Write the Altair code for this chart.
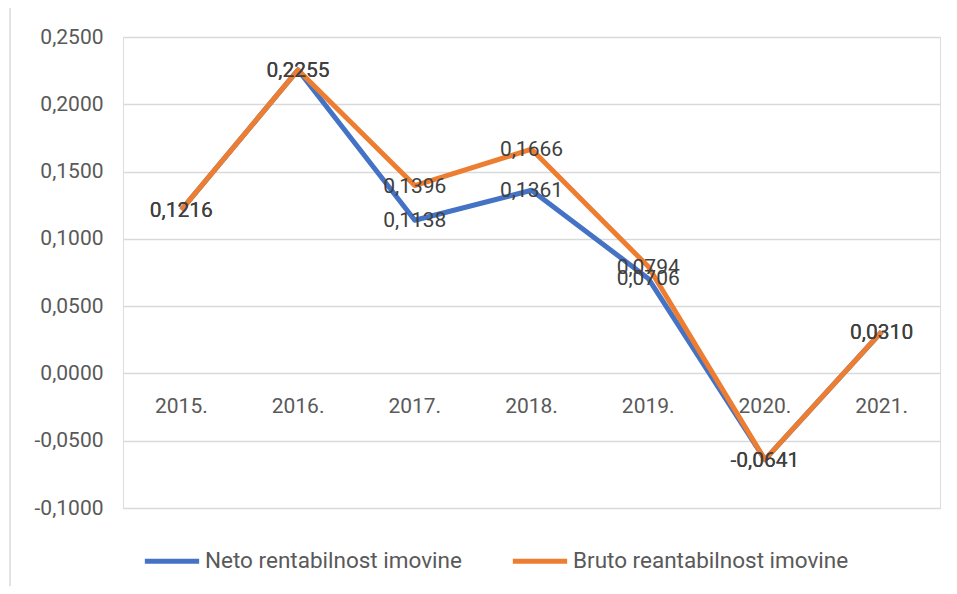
import altair as alt
import pandas as pd

years = ["2015.", "2016.", "2017.", "2018.", "2019.", "2020.", "2021."]
neto = [0.1216, 0.2255, 0.1138, 0.1361, 0.0706, -0.0641, 0.0310]
bruto = [0.1216, 0.2255, 0.1396, 0.1666, 0.0794, -0.0641, 0.0310]
series_names = ["Neto rentabilnost imovine", "Bruto reantabilnost imovine"]
colors = ["#4472C4", "#ED7D31"]
y_ticks = [-0.1, -0.05, 0.0, 0.05, 0.1, 0.15, 0.2, 0.25]

rows = []
for name, vals in zip(series_names, [neto, bruto]):
    for yr, v in zip(years, vals):
        rows.append({"year": yr, "series": name, "value": v,
                     "label": f"{v:.4f}".replace(".", ",")})
df = pd.DataFrame(rows)
cat_df = pd.DataFrame({"year": years})

FONT = "Roboto"
FS = 21

x_enc = alt.X("year:N", sort=years, scale=alt.Scale(type="point", padding=0.5), axis=None)
y_scale = alt.Scale(domain=[-0.1, 0.25], nice=False, zero=False)

color_enc = alt.Color(
    "series:N",
    scale=alt.Scale(domain=series_names, range=colors),
    legend=alt.Legend(
        orient="none", legendX=19, legendY=494, direction="horizontal", columns=2,
        title=None, symbolType="stroke", symbolStrokeWidth=5, symbolSize=2950,
        labelFontSize=22.5, labelColor="#595959", labelFont=FONT,
        columnPadding=40, labelOffset=3, labelLimit=400,
    ),
)

base = alt.Chart(df)

border = alt.Chart(pd.DataFrame({"a": [0]})).mark_rect(
    fill="transparent", stroke="#d9d9d9", strokeWidth=1.5
).encode(
    x=alt.value(-113), x2=alt.value(830), y=alt.value(-30), y2=alt.value(600)
)

grid = base.mark_line(opacity=0).encode(
    x=x_enc,
    y=alt.Y("value:Q", scale=y_scale, axis=alt.Axis(
        values=y_ticks, title=None, ticks=False, domain=False, grid=True,
        gridColor="#d9d9d9", gridWidth=1.5,
        labelExpr="replace(replace(format(datum.value, '.4f'), '.', ','), '\u2212', '-')",
        labelPadding=20, labelFontSize=FS, labelColor="#595959", labelFont=FONT,
    )),
)

line_neto = base.transform_filter(alt.datum.series == series_names[0]).mark_line(
    strokeWidth=5, strokeJoin="round"
).encode(x=x_enc, y=alt.Y("value:Q", scale=y_scale), color=color_enc)

line_bruto = base.transform_filter(alt.datum.series == series_names[1]).mark_line(
    strokeWidth=5, strokeJoin="round"
).encode(x=x_enc, y=alt.Y("value:Q", scale=y_scale), color=color_enc)

labels = base.mark_text(
    fontSize=FS, font=FONT, color="#404040", align="center", baseline="middle", dy=1
).encode(x=x_enc, y=alt.Y("value:Q", scale=y_scale), text="label:N")

cats = alt.Chart(cat_df).mark_text(
    fontSize=FS, font=FONT, color="#595959", align="center", baseline="middle", dy=34
).encode(x=x_enc, y=alt.datum(0, scale=y_scale), text="year:N")

chart = alt.layer(border, grid, cats, line_neto, line_bruto, labels).properties(
    width=817, height=471,
    autosize=alt.AutoSizeParams(type="none"),
    padding={"left": 115, "top": 29, "right": 1, "bottom": 78},
).configure_view(stroke=None).configure(background="white")

chart.save("out.html", embed_options={"renderer": "svg", "actions": False})
